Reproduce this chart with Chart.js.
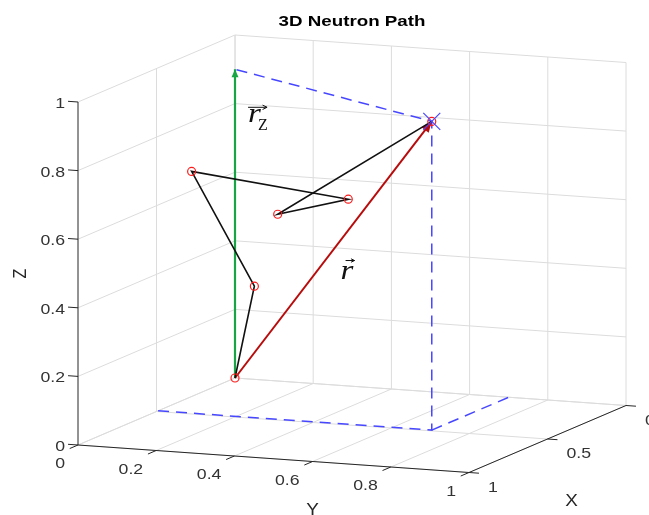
<!DOCTYPE html>
<html>
<head>
<meta charset="utf-8">
<script src="https://cdn.jsdelivr.net/npm/chart.js@4.4.0/dist/chart.umd.min.js"></script>
<style>
  body { margin: 0; background: #fff; }
  canvas { display: block; }
</style>
</head>
<body>
<canvas id="neutronChart" width="649" height="515"></canvas>
<script>
// collision points of the neutron (box units)
var pathX = [0, 0.30, 0.60, 0.20, 0.50, 0.49];
var pathY = [0, 0.17, 0.13, 0.37, 0.31, 0.70];
var pathZ = [0, 0.34, 0.73, 0.59, 0.60, 0.90];

var xTicks = [0, 0.5, 1];
var yTicks = [0, 0.2, 0.4, 0.6, 0.8, 1];
var zTicks = [0, 0.2, 0.4, 0.6, 0.8, 1];
var xTickLabels = ["0", "0.5", "1"];
var yTickLabels = ["0", "0.2", "0.4", "0.6", "0.8", "1"];
var zTickLabels = ["0", "0.2", "0.4", "0.6", "0.8", "1"];

// where one unit of X, Y and Z lands on the view plane
var viewX = [-157, -67];
var viewY = [391, -27.5];
var viewZ = [0, 343];

function project(x, y, z) {
  return {
    x: viewX[0] * x + viewY[0] * y + viewZ[0] * z,
    y: viewX[1] * x + viewY[1] * y + viewZ[1] * z
  };
}

var last = pathX.length - 1;
var xEnd = pathX[last], yEnd = pathY[last], zEnd = pathZ[last];

var pathPoints = pathX.map(function (x, i) { return project(x, pathY[i], pathZ[i]); });
var rzPoints = [project(0, 0, 0), project(0, 0, zEnd)];
var rPoints = [project(0, 0, 0), project(xEnd, yEnd, zEnd)];
// dashed guides down to the floor and back to the z vector
var guideA = [project(xEnd, 0, 0), project(xEnd, yEnd, 0), project(xEnd, yEnd, zEnd), project(0, 0, zEnd)];
var guideB = [project(xEnd, yEnd, 0), project(0, yEnd, 0)];

var TEXT_STRETCH = 1.18;

function stretchedText(ctx, str, x, y, align, font, color, sx) {
  ctx.save();
  ctx.translate(x, y);
  ctx.scale(sx || TEXT_STRETCH, 1);
  ctx.font = font;
  ctx.fillStyle = color;
  ctx.textAlign = align;
  ctx.textBaseline = "alphabetic";
  ctx.fillText(str, 0, 0);
  ctx.restore();
}

function unit(v) {
  var l = Math.sqrt(v[0] * v[0] + v[1] * v[1]);
  return [v[0] / l, v[1] / l];
}

function arrowLine(ctx, x1, y1, x2, y2, head) {
  ctx.beginPath();
  ctx.moveTo(x1, y1);
  ctx.lineTo(x2, y2);
  ctx.stroke();
  var a = Math.atan2(y2 - y1, x2 - x1);
  ctx.beginPath();
  ctx.moveTo(x2, y2);
  ctx.lineTo(x2 - head * Math.cos(a - 0.45), y2 - head * Math.sin(a - 0.45));
  ctx.moveTo(x2, y2);
  ctx.lineTo(x2 - head * Math.cos(a + 0.45), y2 - head * Math.sin(a + 0.45));
  ctx.stroke();
}

var box3d = {
  id: "box3d",
  beforeDatasetsDraw: function (chart) {
    var ctx = chart.ctx;
    var sx = chart.scales.x, sy = chart.scales.y;
    function px(x, y, z) {
      var p = project(x, y, z);
      return [sx.getPixelForValue(p.x), sy.getPixelForValue(p.y)];
    }
    function seg(a, b) {
      ctx.beginPath();
      ctx.moveTo(a[0], a[1]);
      ctx.lineTo(b[0], b[1]);
      ctx.stroke();
    }
    ctx.save();
    ctx.lineWidth = 1;
    ctx.strokeStyle = "#dcdcdc";
    // back wall (X = 0)
    yTicks.forEach(function (t) { seg(px(0, t, 0), px(0, t, 1)); });
    zTicks.forEach(function (t) { seg(px(0, 0, t), px(0, 1, t)); });
    // side wall (Y = 0)
    xTicks.forEach(function (t) { if (t < 1) seg(px(t, 0, 0), px(t, 0, 1)); });
    zTicks.forEach(function (t) { seg(px(0, 0, t), px(1, 0, t)); });
    // floor (Z = 0)
    yTicks.forEach(function (t) { seg(px(0, t, 0), px(1, t, 0)); });
    xTicks.forEach(function (t) { seg(px(t, 0, 0), px(t, 1, 0)); });

    // axis lines
    ctx.strokeStyle = "#262626";
    seg(px(1, 0, 0), px(1, 0, 1));
    seg(px(1, 0, 0), px(1, 1, 0));
    seg(px(1, 1, 0), px(0, 1, 0));

    // tick marks follow the other box directions
    var o = px(0, 0, 0);
    var dY = unit([px(0, 1, 0)[0] - o[0], px(0, 1, 0)[1] - o[1]]);
    var dX = unit([px(1, 0, 0)[0] - o[0], px(1, 0, 0)[1] - o[1]]);
    var font = "15px 'Liberation Sans', Arial, sans-serif";
    var tc = "#333333";
    zTicks.forEach(function (t, i) {
      var p = px(1, 0, t);
      seg(p, [p[0] - 10 * dY[0], p[1] - 10 * dY[1]]);
      stretchedText(ctx, zTickLabels[i], p[0] - 13, p[1] + 6, "right", font, tc);
    });
    yTicks.forEach(function (t, i) {
      var p = px(1, t, 0);
      seg(p, [p[0] + 9 * dX[0], p[1] + 9 * dX[1]]);
      stretchedText(ctx, yTickLabels[i], p[0] - 13, p[1] + 23, "right", font, tc);
    });
    xTicks.forEach(function (t, i) {
      var p = px(t, 1, 0);
      seg(p, [p[0] + 10 * dY[0], p[1] + 10 * dY[1]]);
      stretchedText(ctx, xTickLabels[i], p[0] + 19, p[1] + 19, "left", font, tc);
    });

    // axis titles
    var tf = "16px 'Liberation Sans', Arial, sans-serif";
    var yl = px(1, 0.6, 0);
    stretchedText(ctx, "Y", yl[0], yl[1] + 53, "center", tf, "#262626");
    var xl = px(0.5, 1, 0);
    stretchedText(ctx, "X", xl[0] + 24, xl[1] + 67, "center", tf, "#262626");
    var zl = px(1, 0, 0.5);
    ctx.save();
    ctx.translate(zl[0] - 52, zl[1]);
    ctx.rotate(-Math.PI / 2);
    ctx.scale(1, TEXT_STRETCH);
    ctx.font = tf;
    ctx.fillStyle = "#262626";
    ctx.textAlign = "center";
    ctx.textBaseline = "alphabetic";
    ctx.fillText("Z", 0, 0);
    ctx.restore();

    // title, centred over the box
    var lc = px(1, 0, 0), rc = px(0, 1, 0);
    stretchedText(ctx, "3D Neutron Path", (lc[0] + rc[0]) / 2, 26, "center",
      "bold 15px 'Liberation Sans', Arial, sans-serif", "#000000", 1.25);
    ctx.restore();
  },
  afterDatasetDraw: function (chart, args) {
    var ds = chart.data.datasets[args.index];
    if (!ds.arrowHead) return;
    var pts = args.meta.data;
    var a = pts[pts.length - 2], b = pts[pts.length - 1];
    var ang = Math.atan2(b.y - a.y, b.x - a.x);
    var L = ds.arrowHead[0], W = ds.arrowHead[1];
    var ctx = chart.ctx;
    ctx.save();
    ctx.fillStyle = ds.borderColor;
    ctx.beginPath();
    ctx.moveTo(b.x, b.y);
    ctx.lineTo(b.x - L * Math.cos(ang) + W * Math.sin(ang), b.y - L * Math.sin(ang) - W * Math.cos(ang));
    ctx.lineTo(b.x - L * Math.cos(ang) - W * Math.sin(ang), b.y - L * Math.sin(ang) + W * Math.cos(ang));
    ctx.closePath();
    ctx.fill();
    ctx.restore();
  },
  afterDatasetsDraw: function (chart) {
    var ctx = chart.ctx;
    var sx = chart.scales.x, sy = chart.scales.y;
    function px(x, y, z) {
      var p = project(x, y, z);
      return [sx.getPixelForValue(p.x), sy.getPixelForValue(p.y)];
    }
    ctx.save();
    ctx.strokeStyle = "#111111";
    ctx.lineWidth = 1;
    // r_z label beside the green vector
    var lz = px(0, 0.036, 0.76);
    stretchedText(ctx, "r", lz[0] - 1, lz[1] + 4, "left", "italic 28px 'Liberation Serif', serif", "#111111");
    stretchedText(ctx, "Z", lz[0] + 9, lz[1] + 12, "left", "16px 'Liberation Serif', serif", "#111111", 1.0);
    arrowLine(ctx, lz[0] - 1, lz[1] - 11, lz[0] + 18, lz[1] - 11, 5);
    // r label beside the red vector
    var lr = px(0, 0.27, 0.335);
    stretchedText(ctx, "r", lr[0], lr[1] + 8, "left", "italic 28px 'Liberation Serif', serif", "#111111");
    arrowLine(ctx, lr[0] + 5, lr[1] - 10, lr[0] + 14, lr[1] - 10, 4);
    ctx.restore();
  }
};

new Chart(document.getElementById("neutronChart"), {
  type: "scatter",
  data: {
    datasets: [
      {
        label: "guide",
        data: guideA,
        showLine: true,
        borderColor: "#4747ff",
        borderWidth: 1.5,
        borderDash: [11, 7],
        pointRadius: 0,
        order: 7
      },
      {
        label: "guide2",
        data: guideB,
        showLine: true,
        borderColor: "#4747ff",
        borderWidth: 1.5,
        borderDash: [11, 7],
        pointRadius: 0,
        order: 6
      },
      {
        label: "rz",
        data: rzPoints,
        showLine: true,
        borderColor: "#17a545",
        borderWidth: 2.2,
        pointRadius: 0,
        arrowHead: [8, 3.5],
        order: 5
      },
      {
        label: "r",
        data: rPoints,
        showLine: true,
        borderColor: "#b80c0c",
        borderWidth: 2,
        pointRadius: 0,
        arrowHead: [11, 4.5],
        order: 4
      },
      {
        label: "path",
        data: pathPoints,
        showLine: true,
        borderColor: "#111111",
        borderWidth: 1.6,
        pointRadius: 0,
        order: 3
      },
      {
        label: "collisions",
        data: pathPoints,
        showLine: false,
        pointStyle: "circle",
        pointRadius: 4,
        pointBorderWidth: 1.2,
        pointBorderColor: "#ff1a1a",
        pointBackgroundColor: "rgba(0,0,0,0)",
        order: 2
      },
      {
        label: "end",
        data: [project(xEnd, yEnd, zEnd)],
        showLine: false,
        pointStyle: "crossRot",
        pointRadius: 12,
        pointBorderWidth: 1.2,
        pointBorderColor: "#4747ff",
        order: 1
      }
    ]
  },
  options: {
    responsive: false,
    animation: false,
    events: [],
    layout: { padding: 0, autoPadding: false },
    plugins: {
      legend: { display: false },
      tooltip: { enabled: false },
      title: { display: false }
    },
    scales: {
      x: { type: "linear", display: false, min: -235, max: 414 },
      y: { type: "linear", display: false, min: -137, max: 378 }
    }
  },
  plugins: [box3d]
});
</script>
</body>
</html>
